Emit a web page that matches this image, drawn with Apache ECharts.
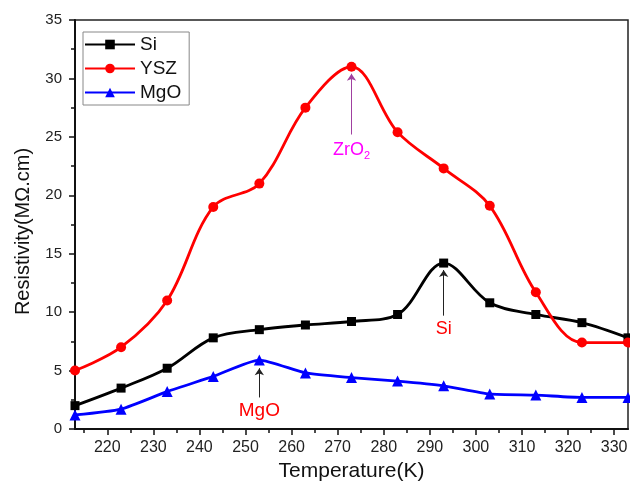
<!DOCTYPE html>
<html>
<head>
<meta charset="utf-8">
<script src="https://cdn.jsdelivr.net/npm/echarts@6/dist/echarts.min.js"></script>
<style>
  html, body { margin: 0; padding: 0; background: #fff; }
  #chart { width: 630px; height: 482px; }
</style>
</head>
<body>
<div id="chart"></div>
<script>
var temps = [213, 223, 233, 243, 253, 263, 273, 283, 293, 303, 313, 323, 333];
var si  = [2.0, 3.5, 5.2, 7.8, 8.5, 8.9, 9.2, 9.8, 14.2, 10.8, 9.8, 9.1, 7.8];
var ysz = [5.0, 7.0, 11.0, 19.0, 21.0, 27.5, 31.0, 25.4, 22.3, 19.1, 11.7, 7.4, 7.4];
var mgo = [1.2, 1.7, 3.2, 4.5, 5.9, 4.8, 4.4, 4.1, 3.7, 3.0, 2.9, 2.7, 2.7];
var xMajor = [220, 230, 240, 250, 260, 270, 280, 290, 300, 310, 320, 330];
var xMinor = [215, 225, 235, 245, 255, 265, 275, 285, 295, 305, 315, 325];

// arrow annotations: x, start value, end value
var zrArrow = [273, 25.2, 30.4];
var siArrow = [293, 9.7, 13.6];
var mgArrow = [253, 2.7, 5.2];

function pairs(ys) {
  return temps.map(function (t, i) { return [t, ys[i]]; });
}

function arrow(a, lineColor, label) {
  return {
    silent: true,
    symbol: ['none', 'arrow'],
    symbolSize: 7,
    lineStyle: { color: lineColor, width: 1, type: 'solid' },
    label: label,
    data: [[{ coord: [a[0], a[1]] }, { coord: [a[0], a[2]] }]]
  };
}

var chart = echarts.init(document.getElementById('chart'));
var font = 'Liberation Sans, Arial, sans-serif';

var option = {
  animation: false,
  textStyle: { fontFamily: font },
  grid: {
    left: 75, right: 2, top: 20, bottom: 53,
    outerBoundsMode: 'none',
    show: true, borderColor: '#222', borderWidth: 1.5
  },
  legend: {
    left: 83, top: 32,
    orient: 'vertical',
    itemWidth: 50, itemHeight: 12, itemGap: 3,
    padding: [2, 8, 2, 1],
    borderColor: '#888', borderWidth: 1,
    textStyle: { fontSize: 19, lineHeight: 21, color: '#111', fontFamily: font },
    data: ['Si', 'YSZ', 'MgO']
  },
  xAxis: [{
    type: 'value', min: 213, max: 333,
    name: 'Temperature(K)', nameLocation: 'middle', nameGap: 32,
    nameTextStyle: { fontSize: 21, color: '#111' },
    axisLine: { lineStyle: { color: '#111', width: 2 } },
    axisTick: { customValues: xMajor, length: 6, lineStyle: { color: '#111', width: 1.5 } },
    axisLabel: { customValues: xMajor, fontSize: 16, color: '#222', margin: 11 },
    splitLine: { show: false }
  }, {
    type: 'value', min: 213, max: 333, position: 'bottom',
    axisLine: { show: false },
    axisTick: { customValues: xMinor, length: 4, lineStyle: { color: '#111', width: 1.5 } },
    axisLabel: { show: false },
    splitLine: { show: false }
  }],
  yAxis: {
    type: 'value', min: 0, max: 35, interval: 5,
    name: 'Resistivity(MΩ.cm)', nameLocation: 'middle', nameGap: 42,
    nameTextStyle: { fontSize: 20, color: '#111', padding: [0, 14, 0, 0] },
    axisLine: { show: true, lineStyle: { color: '#111', width: 2 } },
    axisTick: { show: true, length: 6, lineStyle: { color: '#111', width: 1.5 } },
    minorTick: { show: true, splitNumber: 2, length: 4, lineStyle: { color: '#111', width: 1.5 } },
    axisLabel: { fontSize: 15, color: '#222', margin: 13 },
    splitLine: { show: false }
  },
  series: [{
    name: 'Si', type: 'line', smooth: 0.35,
    data: pairs(si),
    symbol: 'rect', symbolSize: 9,
    itemStyle: { color: '#000' },
    lineStyle: { color: '#000', width: 2.8 },
    markLine: arrow(siArrow, '#222', {
      show: true, position: 'start', formatter: 'Si', distance: 4,
      color: '#f00', fontSize: 18
    })
  }, {
    name: 'YSZ', type: 'line', smooth: 0.35,
    data: pairs(ysz),
    symbol: 'circle', symbolSize: 10,
    itemStyle: { color: '#f00' },
    lineStyle: { color: '#f00', width: 2.8 },
    markLine: arrow(zrArrow, '#a040a0', {
      show: true, position: 'start', distance: 4,
      formatter: '{a|ZrO}{b|2}',
      rich: {
        a: { color: '#f0f', fontSize: 18 },
        b: { color: '#f0f', fontSize: 11, padding: [12, 0, 0, 0] }
      }
    })
  }, {
    name: 'MgO', type: 'line', smooth: 0.2,
    data: pairs(mgo),
    symbol: 'triangle', symbolSize: 11,
    itemStyle: { color: '#00f' },
    lineStyle: { color: '#00f', width: 2.8 },
    markLine: arrow(mgArrow, '#222', {
      show: true, position: 'start', formatter: 'MgO', distance: 4,
      color: '#f00', fontSize: 19
    })
  }]
};

chart.setOption(option);
</script>
</body>
</html>
